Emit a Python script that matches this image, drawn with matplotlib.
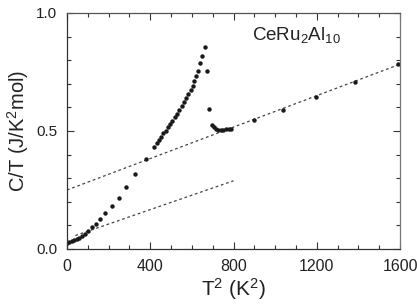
import matplotlib
matplotlib.use("Agg")
import matplotlib.pyplot as plt
from matplotlib.ticker import MultipleLocator

plt.rcParams['font.family'] = ['Liberation Sans', 'DejaVu Sans']
plt.rcParams['mathtext.fontset'] = 'custom'
plt.rcParams['mathtext.rm'] = 'Liberation Sans'
plt.rcParams['mathtext.it'] = 'Liberation Sans'

# Data
T2 = [1, 11, 22, 34, 46, 59, 70, 85, 103, 118, 137, 158, 183, 215, 248, 285,
      328, 378, 418, 431, 442, 453, 463, 474, 484, 495, 506, 517, 528, 540,
      551, 562, 572, 583, 594, 604, 610, 620, 631, 639, 649, 662, 674, 684,
      698, 706, 716, 727, 738, 751, 764, 778, 790, 900, 1036, 1198, 1382, 1591]
CT = [0.027, 0.031, 0.034, 0.037, 0.041, 0.047, 0.054, 0.064, 0.076, 0.092,
      0.107, 0.127, 0.153, 0.182, 0.218, 0.264, 0.317, 0.381, 0.434, 0.448,
      0.462, 0.476, 0.490, 0.501, 0.516, 0.528, 0.544, 0.558, 0.572, 0.589,
      0.606, 0.623, 0.640, 0.655, 0.674, 0.691, 0.713, 0.733, 0.756, 0.787,
      0.819, 0.857, 0.754, 0.595, 0.527, 0.516, 0.510, 0.506, 0.504, 0.506,
      0.507, 0.508, 0.510, 0.547, 0.589, 0.643, 0.709, 0.784]

fit_hi_x = [0, 1600]
fit_hi_y = [0.250, 0.783]
fit_lo_x = [40, 800]
fit_lo_y = [0.057, 0.289]

xticks = [0, 400, 800, 1200, 1600]
xticklabels = ['0', '400', '800', '1200', '1600']
yticks = [0.0, 0.5, 1.0]
yticklabels = ['0.0', '0.5', '1.0']

fig = plt.figure(figsize=(4.17, 3.04), dpi=100)
ax = fig.add_axes([67/417, 55/304, 333/417, 236/304])

ax.plot(fit_hi_x, fit_hi_y, color='#444444', lw=0.9, dashes=(2.2, 2.2))
ax.plot(fit_lo_x, fit_lo_y, color='#444444', lw=0.9, dashes=(2.2, 2.2))
ax.plot(T2, CT, 'o', color='#1a1a1a', ms=3.2, mew=0)

ax.set_xlim(0, 1600)
ax.set_ylim(0, 1.0)
ax.set_xticks(xticks)
ax.set_xticklabels(xticklabels)
ax.set_yticks(yticks)
ax.set_yticklabels(yticklabels)
ax.xaxis.set_minor_locator(MultipleLocator(100))
ax.yaxis.set_minor_locator(MultipleLocator(0.1))
ax.tick_params(which='both', direction='in', top=True, right=True,
               color='#333333', width=0.8)
ax.tick_params(which='major', length=5)
ax.tick_params(which='minor', length=3)
ax.tick_params(axis='x', labelsize=11.5, pad=7, labelcolor='#222222')
ax.tick_params(axis='y', labelsize=11, pad=7, labelcolor='#222222')
for s in ax.spines.values():
    s.set_color('#333333')
    s.set_linewidth(0.9)
ax.spines['right'].set_color('#777777')
ax.spines['top'].set_color('#555555')

ax.set_xlabel('T$^2$ (K$^2$)', fontsize=15, color='#222222', labelpad=2)
ax.set_ylabel('C/T (J/K$^2$mol)', fontsize=14.5, color='#222222', labelpad=4)

ax.text(0.688, 0.905, 'CeRu$_2$Al$_{10}$', transform=ax.transAxes,
        fontsize=13.5, color='#222222', ha='center', va='center')

fig.savefig('out.png', dpi=100)
